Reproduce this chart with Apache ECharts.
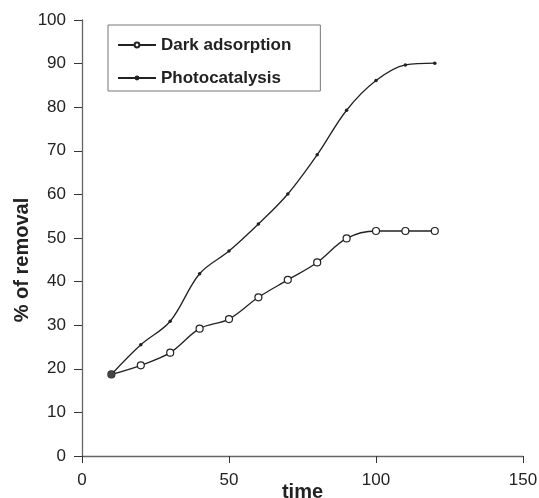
<!DOCTYPE html>
<html>
<head>
<meta charset="utf-8">
<script src="https://cdn.jsdelivr.net/npm/echarts@6/dist/echarts.min.js"></script>
<style>html,body{margin:0;padding:0;background:#fff;}#c{width:539px;height:498px;}</style>
</head>
<body>
<div id="c"></div>
<script>
var times = [10, 20, 30, 40, 50, 60, 70, 80, 90, 100, 110, 120];
var darkAdsorption = [18.7, 20.8, 23.7, 29.2, 31.4, 36.4, 40.4, 44.4, 49.9, 51.6, 51.6, 51.6];
var photocatalysis = [18.7, 25.5, 30.9, 41.8, 47.0, 53.2, 60.1, 69.1, 79.3, 86.1, 89.7, 90.1];
var seriesNames = ['Dark adsorption', 'Photocatalysis'];
var xTicks = [0, 50, 100, 150];
var yTicks = [0, 10, 20, 30, 40, 50, 60, 70, 80, 90, 100];

function pairs(ys) { return times.map(function (t, i) { return [t, ys[i]]; }); }

var chart = echarts.init(document.getElementById('c'), null, { renderer: 'canvas' });
var axisCol = '#666';
var font = 'Liberation Sans, Arial, sans-serif';
var photoData = pairs(photocatalysis).map(function (p, i) {
  return i === 0 ? { value: p, symbolSize: 7, itemStyle: { color: '#444', borderColor: '#222' } } : p;
});
chart.setOption({
  animation: false,
  grid: { left: 82, right: 16, top: 20, bottom: 42, containLabel: false, outerBoundsMode: 'none' },
  legend: {
    left: 108, top: 25, orient: 'vertical',
    padding: [10, 29, 3, 9],
    borderColor: '#777', borderWidth: 1,
    itemWidth: 38, itemHeight: 6, itemGap: 13,
    textStyle: { fontFamily: font, fontWeight: 'bold', fontSize: 17, color: '#222', lineHeight: 20 },
    data: seriesNames
  },
  xAxis: {
    type: 'value', min: 0, max: 150, interval: 50,
    name: 'time', nameLocation: 'middle', nameGap: 26, nameMoveOverlap: false,
    nameTextStyle: { fontFamily: font, fontWeight: 'bold', fontSize: 20, color: '#222' },
    axisLine: { lineStyle: { color: axisCol, width: 1.3 } },
    axisTick: { show: true, length: 7, lineStyle: { color: '#333' } },
    axisLabel: { fontFamily: font, fontSize: 17, color: '#222', margin: 16 },
    splitLine: { show: false }
  },
  yAxis: {
    type: 'value', min: 0, max: 100, interval: 10,
    name: '% of removal', nameLocation: 'middle', nameGap: 50, nameRotate: 90, nameMoveOverlap: false,
    nameTextStyle: { fontFamily: font, fontWeight: 'bold', fontSize: 20, color: '#222', padding: [0, 44, 0, 0] },
    axisLine: { show: true, lineStyle: { color: axisCol, width: 1.3 } },
    axisTick: { show: true, length: 8, lineStyle: { color: '#333' } },
    axisLabel: { fontFamily: font, fontSize: 17, color: '#222', margin: 16 },
    splitLine: { show: false }
  },
  series: [
    {
      name: seriesNames[0], type: 'line', smooth: 0.35,
      data: pairs(darkAdsorption),
      symbol: 'circle', symbolSize: 7, showAllSymbol: true,
      lineStyle: { color: '#222', width: 1.3 },
      itemStyle: { color: '#fff', borderColor: '#222', borderWidth: 1.2 },
      z: 2
    },
    {
      name: seriesNames[1], type: 'line', smooth: 0.35,
      data: photoData,
      symbol: 'circle', symbolSize: 3.5, showAllSymbol: true,
      lineStyle: { color: '#222', width: 1.3 },
      itemStyle: { color: '#222', borderColor: '#222', borderWidth: 0 },
      z: 3
    }
  ]
});
</script>
</body>
</html>
